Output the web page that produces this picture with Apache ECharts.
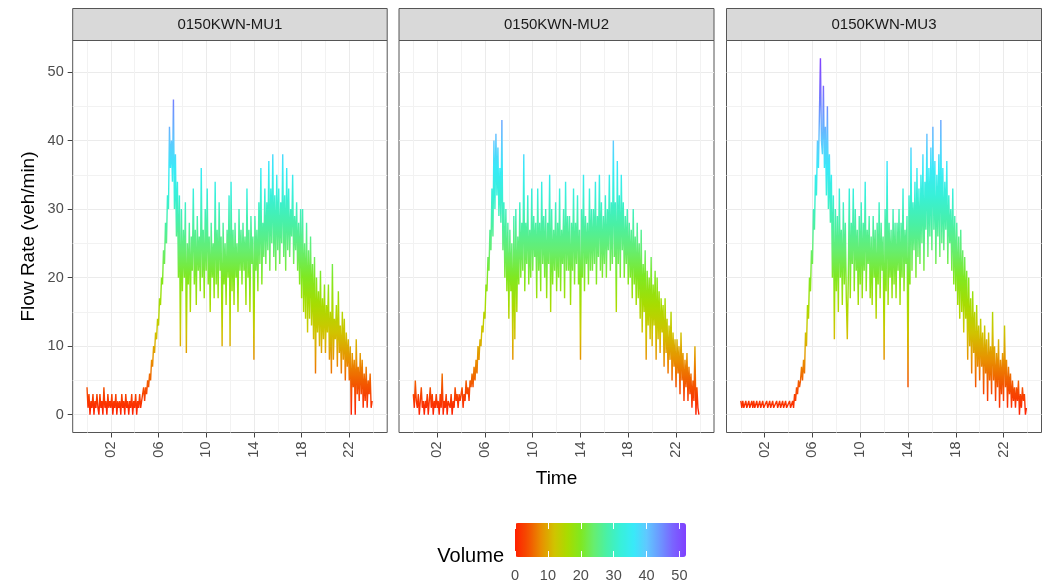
<!DOCTYPE html>
<html><head><meta charset="utf-8">
<script src="https://cdn.jsdelivr.net/npm/echarts@6/dist/echarts.min.js"></script>
<style>html,body{margin:0;padding:0;background:#fff}#c{width:1056px;height:587px}</style>
</head><body><div id="c"></div>
<script>
// ---------------- data ----------------
const panels = ['0150KWN-MU1', '0150KWN-MU2', '0150KWN-MU3'];
const stepMinutes = 5; // one reading every 5 minutes, starting at 00:00

const mu1 = [
  4,1,3,0,2,1,3,0,2,1,3,1,
  0,3,1,2,0,4,1,2,0,3,1,2,
  1,3,0,2,1,3,0,2,1,2,0,3,
  1,2,0,3,1,2,0,2,1,3,0,2,
  1,3,0,2,1,3,1,2,2,4,2,4,
  3,5,4,6,5,8,7,10,9,12,11,14,
  13,17,16,20,19,24,22,28,25,32,30,42,
  36,40,34,46,30,38,26,34,20,32,10,30,
  18,27,20,31,9,25,19,28,15,26,21,33,
  19,27,16,29,21,26,18,36,20,27,17,30,
  21,33,19,26,15,28,20,25,17,34,19,27,
  17,31,21,26,10,28,19,25,16,27,20,32,
  10,34,18,27,16,28,20,25,15,30,21,27,
  19,28,21,26,16,33,20,27,15,29,22,26,
  8,29,21,27,18,31,22,36,19,28,23,33,
  22,31,24,37,21,33,25,38,23,32,21,35,
  24,33,22,31,25,38,23,32,21,36,24,33,
  23,30,26,35,22,29,24,31,21,28,19,30,
  17,30,15,25,14,28,12,24,14,26,13,22,
  11,23,6,20,12,18,10,21,9,17,11,19,
  9,16,12,19,8,15,6,22,8,14,11,16,
  7,18,9,13,6,15,8,14,5,12,7,11,
  5,10,0,9,4,8,0,11,3,7,2,9,
  3,8,1,6,2,7,1,5,3,6,1,2
];
const mu2 = [
  3,1,5,2,1,3,0,2,4,1,2,0,
  2,1,3,0,2,4,1,3,0,2,1,3,
  1,2,0,3,1,6,0,2,1,3,0,2,
  2,1,3,0,2,1,4,2,3,1,3,2,
  2,4,1,3,2,5,3,4,2,5,4,6,
  4,7,5,8,6,10,8,11,10,13,12,15,
  14,19,18,23,21,27,24,33,26,40,30,41,
  32,39,29,36,28,43,24,31,20,30,18,28,
  14,27,18,25,8,29,11,30,15,26,19,31,
  20,28,21,38,18,28,22,32,19,27,20,33,
  21,29,23,28,17,33,21,28,18,34,22,29,
  20,30,17,28,22,35,15,30,19,27,21,31,
  18,28,20,33,18,27,22,30,17,34,21,29,
  21,29,16,28,21,33,19,28,22,32,19,27,
  8,30,20,35,18,29,22,28,19,33,21,30,
  21,30,22,34,19,29,23,35,21,31,20,29,
  22,32,20,30,24,35,21,31,22,40,23,31,
  15,37,22,32,20,35,24,31,20,29,22,30,
  19,28,20,27,17,30,19,26,16,28,17,25,
  14,27,12,22,15,24,8,21,13,20,11,23,
  10,19,13,21,8,20,11,18,9,17,12,16,
  7,17,9,14,6,13,8,15,5,12,7,11,
  4,11,6,10,3,12,5,9,2,8,4,9,
  2,7,3,6,1,5,2,10,0,4,1,0
];
const mu3 = [
  2,1,2,1,1,2,1,1,2,1,1,2,
  1,2,1,1,2,1,1,2,1,1,2,1,
  1,1,2,1,1,2,1,1,2,1,1,1,
  2,1,1,2,1,1,2,1,1,2,1,1,
  1,2,1,1,2,1,3,2,4,3,5,4,
  5,7,5,8,6,12,10,16,14,20,18,24,
  22,30,27,35,32,40,36,44,52,40,38,48,
  36,42,32,45,30,38,28,35,20,32,11,30,
  18,29,15,33,20,27,16,31,19,28,17,11,
  20,33,17,28,22,33,18,30,21,27,16,29,
  19,31,17,28,21,34,18,27,22,29,17,26,
  16,29,20,27,14,28,19,31,17,28,21,26,
  8,30,18,37,16,28,20,27,17,30,19,28,
  17,28,21,30,16,28,20,33,18,27,22,29,
  4,32,19,39,21,31,24,34,20,36,23,33,
  22,35,25,38,21,34,27,41,23,36,26,39,
  24,42,27,37,22,35,26,38,23,43,25,36,
  24,34,27,37,22,32,25,30,21,33,19,29,
  18,28,16,26,14,27,15,24,12,23,14,21,
  8,20,10,17,6,18,9,15,4,16,7,13,
  5,14,7,12,3,13,6,11,2,12,5,10,
  3,15,5,10,2,9,4,11,1,8,3,9,
  2,13,4,8,1,7,3,6,1,5,2,4,
  1,4,2,5,0,3,1,4,2,3,0,1
];
const seriesValues = [mu1, mu2, mu3];

const yMajorTicks = [0, 10, 20, 30, 40, 50];
const yMinorTicks = [5, 15, 25, 35, 45];
const xMajorTicks = [2, 6, 10, 14, 18, 22];   // hours
const xMinorTicks = [0, 4, 8, 12, 16, 20, 24];
const legendTicks = [0, 10, 20, 30, 40, 50];
const volumeRange = [0, 52];
const volumeColors = ['#FF2000','#F45000','#E89000','#D0C400','#A8DC00','#80E820','#66EE70',
                      '#48F0A8','#38F0D8','#38EAF8','#60C8FF','#6C98FF','#7A64FF','#8040FF'];

// ---------------- layout / style ----------------
const FONT = '"Liberation Sans", Arial, sans-serif';
const P = [{left: 72.7, width: 314.5}, {left: 399, width: 315}, {left: 726.5, width: 315}];
const PTOP = 40.5, PH = 392, STRIP_TOP = 8.5, STRIP_H = 32;
const XMIN = -1.2, XMAX = 25.18, YMIN = -2.6, YMAX = 54.6;
const BORDER = '#555';
const pad2 = v => (v < 10 ? '0' : '') + v;

const grid = [], xAxis = [], yAxis = [], series = [], graphic = [];
P.forEach((p, i) => {
  grid.push({left: p.left, top: PTOP, width: p.width, height: PH, show: true,
             borderColor: BORDER, borderWidth: 1, backgroundColor: '#fff', containLabel: false, outerBoundsMode: 'none'});
  xAxis.push({
    type: 'value', gridIndex: i, min: XMIN, max: XMAX, position: 'bottom',
    axisLine: {show: false, onZero: false},
    axisTick: {show: true, customValues: xMajorTicks, length: 5, lineStyle: {color: '#444', width: 1}},
    axisLabel: {customValues: xMajorTicks, rotate: 90, formatter: pad2, fontSize: 14.5, color: '#4D4D4D', margin: 9, fontFamily: FONT},
    splitLine: {show: true, lineStyle: {color: '#EBEBEB', width: 1}},
    name: i === 1 ? 'Time' : '', nameLocation: 'middle', nameGap: 37,
    nameTextStyle: {fontSize: 19, color: '#000', fontFamily: FONT}
  });
  xAxis.push({
    type: 'value', gridIndex: i, min: XMIN, max: XMAX, position: 'top',
    axisLine: {show: false, onZero: false},
    axisTick: {show: false, customValues: xMinorTicks},
    axisLabel: {show: false, customValues: xMinorTicks},
    splitLine: {show: true, lineStyle: {color: '#F2F2F2', width: 1}}
  });
  yAxis.push({
    type: 'value', gridIndex: i, min: YMIN, max: YMAX, position: 'left',
    axisLine: {show: false, onZero: false},
    axisTick: {show: i === 0, customValues: yMajorTicks, length: 5, lineStyle: {color: '#444', width: 1}},
    axisLabel: {show: i === 0, customValues: yMajorTicks, fontSize: 14.5, color: '#4D4D4D', margin: 9, fontFamily: FONT},
    splitLine: {show: true, lineStyle: {color: '#EBEBEB', width: 1}},
    name: i === 0 ? 'Flow Rate (veh/min)' : '', nameLocation: 'middle', nameGap: 34,
    nameTextStyle: {fontSize: 19, color: '#000', fontFamily: FONT}
  });
  yAxis.push({
    type: 'value', gridIndex: i, min: YMIN, max: YMAX, position: 'right',
    axisLine: {show: false, onZero: false},
    axisTick: {show: false, customValues: yMinorTicks},
    axisLabel: {show: false, customValues: yMinorTicks},
    splitLine: {show: true, lineStyle: {color: '#F2F2F2', width: 1}}
  });
  series.push({
    type: 'line', name: panels[i], xAxisIndex: 2 * i, yAxisIndex: 2 * i,
    data: seriesValues[i].map((v, k) => [k * stepMinutes / 60, v]),
    showSymbol: false, symbol: 'none', lineStyle: {width: 1.4}, silent: true, clip: true, z: 3
  });
  // facet strip
  graphic.push({type: 'rect', shape: {x: p.left, y: STRIP_TOP, width: p.width, height: STRIP_H},
                style: {fill: '#D9D9D9', stroke: BORDER, lineWidth: 1}, z: 5});
  graphic.push({type: 'text', z: 6, style: {text: panels[i], x: p.left + p.width / 2, y: STRIP_TOP + STRIP_H / 2,
                align: 'center', verticalAlign: 'middle', textAlign: 'center', textVerticalAlign: 'middle',
                font: '15px ' + FONT, fill: '#1A1A1A'}});
});

// colour bar label axes
const LG = {left: 515, top: 523, width: 171, height: 34};
grid.push({left: LG.left, top: LG.top, width: LG.width, height: LG.height, show: false, containLabel: false});
xAxis.push({
  type: 'value', gridIndex: 3, min: volumeRange[0], max: volumeRange[1], position: 'bottom', z: 10,
  axisLine: {show: false, onZero: false},
  axisTick: {show: true, inside: true, length: 6, customValues: legendTicks, lineStyle: {color: '#fff', width: 1}},
  axisLabel: {customValues: legendTicks, fontSize: 14.5, color: '#4D4D4D', margin: 11, fontFamily: FONT},
  splitLine: {show: false}
});
xAxis.push({
  type: 'value', gridIndex: 3, min: volumeRange[0], max: volumeRange[1], position: 'top', z: 10,
  axisLine: {show: false, onZero: false},
  axisTick: {show: true, inside: true, length: 6, customValues: legendTicks, lineStyle: {color: '#fff', width: 1}},
  axisLabel: {show: false},
  splitLine: {show: false}
});
yAxis.push({type: 'value', gridIndex: 3, min: 0, max: 1, show: false});

graphic.push({type: 'text', z: 6, style: {text: 'Volume', x: 504, y: 556, align: 'right', verticalAlign: 'middle',
              textAlign: 'right', textVerticalAlign: 'middle', font: '20px ' + FONT, fill: '#000'}});

const option = {
  animation: false,
  backgroundColor: '#fff',
  textStyle: {fontFamily: FONT},
  grid, xAxis, yAxis, series, graphic,
  visualMap: {
    type: 'continuous', min: volumeRange[0], max: volumeRange[1], dimension: 1, seriesIndex: [0, 1, 2],
    inRange: {color: volumeColors}, orient: 'horizontal', left: LG.left, top: LG.top,
    itemWidth: LG.height, itemHeight: LG.width, calculable: false, padding: 0, text: null, hoverLink: false
  }
};
const chart = echarts.init(document.getElementById('c'), null, {renderer: 'canvas'});
chart.setOption(option);
</script></body></html>
